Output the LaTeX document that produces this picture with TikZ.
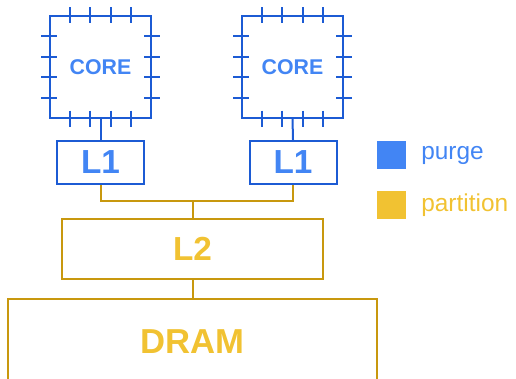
\documentclass[tikz,border=0pt]{standalone}
\usepackage{fontspec}
\setmainfont{Liberation Sans}
\usetikzlibrary{positioning,calc}
\definecolor{lineblue}{HTML}{1C5BD4}
\definecolor{textblue}{HTML}{4285F4}
\definecolor{linegold}{HTML}{C8980E}
\definecolor{textgold}{HTML}{F1C232}
\begin{document}
\begin{tikzpicture}
[x=0.75pt, y=-0.75pt, line width=1.5pt,
core/.style={rectangle, draw=lineblue, text=textblue, inner sep=0pt, minimum size=75.75pt, font=\fontsize{16}{19}\selectfont\bfseries},
pin/.style={draw=lineblue, line width=1.5pt},
lone/.style={rectangle, draw=lineblue, text=textblue, inner sep=0pt, minimum width=65.25pt, minimum height=32.25pt, font=\fontsize{25}{29}\selectfont\bfseries},
ltwo/.style={rectangle, draw=linegold, line width=1.3pt, text=textgold, inner sep=0pt, minimum width=195.75pt, minimum height=45pt, font=\fontsize{25}{29}\selectfont\bfseries},
mem/.style={rectangle, draw=linegold, line width=1.3pt, text=textgold, inner sep=0pt, minimum width=276.75pt, minimum height=64.5pt, font=\fontsize{26}{30}\selectfont\bfseries},
bluewire/.style={draw=lineblue, line width=1.5pt},
goldwire/.style={draw=linegold, line width=1.5pt},
swatch/.style={rectangle, inner sep=0pt, minimum width=21.75pt, minimum height=21pt},
legend/.style={anchor=west, inner sep=0pt, font=\fontsize{18.3}{22}\selectfont}]

\clip (0,0) rectangle (516,378);
\useasboundingbox (0,0) rectangle (516,378);

% cores
\node[core] (core1) at (100.5,67) {CORE};
\node[core] (core2) at (292.5,67) {CORE};

\foreach \c in {core1,core2}{
  \foreach \i in {1,...,4}{
    \draw[pin] ($(\c.north west)!\i/5!(\c.north east)$) ++(0,-8) -- ++(0,16);
    \draw[pin] ($(\c.south west)!\i/5!(\c.south east)$) ++(0,-8) -- ++(0,16);
    \draw[pin] ($(\c.north west)!\i/5!(\c.south west)$) ++(-8,0) -- ++(16,0);
    \draw[pin] ($(\c.north east)!\i/5!(\c.south east)$) ++(-8,0) -- ++(16,0);
  }
}

% caches
\node[lone] (l1a) at (100.5,162.5) {L1};
\node[lone] (l1b) at (293,162.5) {L1};
\node[ltwo] (l2) at (192.5,249) {L2};
\node[mem] (dram) at (192.5,342) {DRAM};

\draw[bluewire] (core1.south) -- (l1a.north);
\draw[bluewire] (core2.south) -- (l1b.north);

\coordinate (split) at (192.5,201);
\draw[goldwire] (l1a.south) |- (split) -| (l1b.south);
\draw[goldwire] (split) -- (l2.north);
\draw[goldwire] (l2.south) -- (dram.north);

% legend
\node[swatch, fill=textblue] (keypurge) at (391.5,155) {};
\node[swatch, fill=textgold] (keypart) at (391.5,205) {};
\node[legend, text=textblue, right=10pt of keypurge] (purge) {purge};
\node[legend, text=textgold, right=10pt of keypart] (partition) {partition};
\end{tikzpicture}
\end{document}
